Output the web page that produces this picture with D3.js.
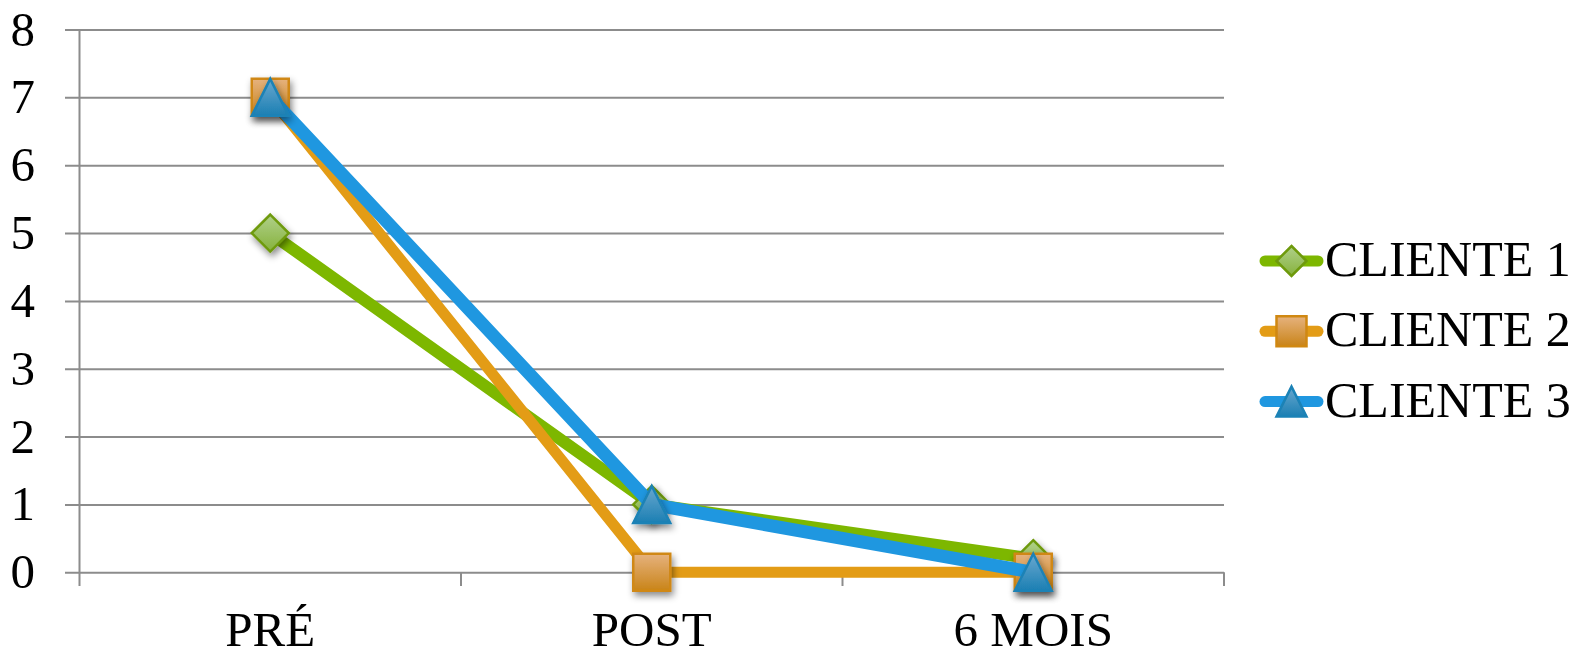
<!DOCTYPE html>
<html><head><meta charset="utf-8">
<script src="https://cdn.jsdelivr.net/npm/d3@7"></script>
<style>
html,body{margin:0;padding:0;background:#fff;}
svg{display:block;font-family:"Liberation Serif","Times New Roman",serif;}
</style></head>
<body>
<svg id="chart" width="1588" height="651"></svg>
<script>
const categories = ["PRÉ", "POST", "6 MOIS"];
const seriesNames = ["CLIENTE 1", "CLIENTE 2", "CLIENTE 3"];
const cliente1 = [5, 1, 0.2];
const cliente2 = [7, 0, 0];
const cliente3 = [7, 1, 0];
const yTicks = [0, 1, 2, 3, 4, 5, 6, 7, 8];

const series = [
  {name: seriesNames[0], values: cliente1, color: "#7db700", stroke: "#6e9a0c", g1: "#b0d08a", g2: "#86b23c", shape: "diamond", w: 12},
  {name: seriesNames[1], values: cliente2, color: "#e39c16", stroke: "#d08812", g1: "#e6b27e", g2: "#c98418", shape: "square", w: 11},
  {name: seriesNames[2], values: cliente3, color: "#1f97e0", stroke: "#1b82b6", g1: "#6aa8cf", g2: "#1b7fb3", shape: "triangle", w: 13}
];

const svg = d3.select("#chart");
const defs = svg.append("defs");
const f = defs.append("filter").attr("id","shadow").attr("x","-50%").attr("y","-50%").attr("width","200%").attr("height","200%");
f.append("feDropShadow").attr("dx",2).attr("dy",4).attr("stdDeviation",3.5).attr("flood-color","#000").attr("flood-opacity",0.45);
series.forEach((s,i)=>{
  const lg = defs.append("linearGradient").attr("id","grad"+i).attr("x1",0).attr("y1",0).attr("x2",0).attr("y2",1);
  lg.append("stop").attr("offset","0%").attr("stop-color",s.g1);
  lg.append("stop").attr("offset","100%").attr("stop-color",s.g2);
});

const pLeft = 79.5, pRight = 1224, pTop = 29.5, pBottom = 572.3;
const x = d3.scaleBand().domain(categories).range([pLeft, pRight]).padding(0);
const y = d3.scaleLinear().domain([0, 8]).range([pBottom, pTop]);

// gridlines
const grid = svg.append("g").attr("transform", `translate(${pRight},0)`)
  .call(d3.axisLeft(y).tickValues(yTicks).tickSize(pRight - 65).tickFormat(""));
grid.select(".domain").remove();
grid.selectAll(".tick line").attr("stroke","#8c8c8c").attr("stroke-width",2);

// y axis line
svg.append("line").attr("x1",pLeft).attr("x2",pLeft).attr("y1",pTop).attr("y2",586)
  .attr("stroke","#8c8c8c").attr("stroke-width",2);

// y labels
svg.append("g").selectAll("text").data(yTicks).join("text")
  .attr("x", 35).attr("y", d => y(d) + 16).attr("text-anchor","end")
  .attr("font-size", 49).attr("fill","#000").text(d => d);

// x ticks at band boundaries
const bounds = categories.map(c => x(c)).concat([pRight]);
svg.append("g").selectAll("line").data(bounds.slice(1)).join("line")
  .attr("x1", d=>d).attr("x2", d=>d).attr("y1", pBottom).attr("y2", 586)
  .attr("stroke","#8c8c8c").attr("stroke-width",2);

// x labels
svg.append("g").selectAll("text").data(categories).join("text")
  .attr("x", d => x(d) + x.bandwidth()/2).attr("y", 646).attr("text-anchor","middle")
  .attr("font-size", 49).attr("fill","#000").text(d => d);

function markerPath(shape, size){
  const h = size/2;
  if(shape==="diamond") return `M0,${-h}L${h},0L0,${h}L${-h},0Z`;
  if(shape==="square") return `M${-h},${-h}H${h}V${h}H${-h}Z`;
  return `M0,${-h}L${h},${h}L${-h},${h}Z`;
}

const line = d3.line().x((d,i)=>x(categories[i]) + x.bandwidth()/2).y(d=>y(d));
series.forEach((s,i)=>{
  const g = svg.append("g");
  g.append("path").attr("d", line(s.values)).attr("fill","none")
    .attr("stroke", s.color).attr("stroke-width", s.w).attr("stroke-linejoin","round").attr("stroke-linecap","round");
  g.selectAll("path.m").data(s.values).join("path").attr("class","m")
    .attr("transform",(d,j)=>`translate(${x(categories[j]) + x.bandwidth()/2},${y(d)})`)
    .attr("d", markerPath(s.shape, 37))
    .attr("fill", `url(#grad${i})`).attr("stroke", s.stroke).attr("stroke-width", 2.5)
    .attr("stroke-linejoin","miter")
    .attr("filter","url(#shadow)");
});

// legend
const leg = svg.append("g");
series.forEach((s,i)=>{
  const cy = 261 + i*70.3;
  leg.append("line").attr("x1",1265).attr("x2",1318).attr("y1",cy).attr("y2",cy)
    .attr("stroke", s.color).attr("stroke-width", 11).attr("stroke-linecap","round");
  leg.append("path").attr("transform",`translate(1291.5,${cy})`).attr("d", markerPath(s.shape, 30))
    .attr("fill", `url(#grad${i})`).attr("stroke", s.stroke).attr("stroke-width", 2.5);
  leg.append("text").attr("x",1325).attr("y", cy + 15).attr("font-size",50).attr("fill","#000").text(s.name);
});
</script>
</body></html>
